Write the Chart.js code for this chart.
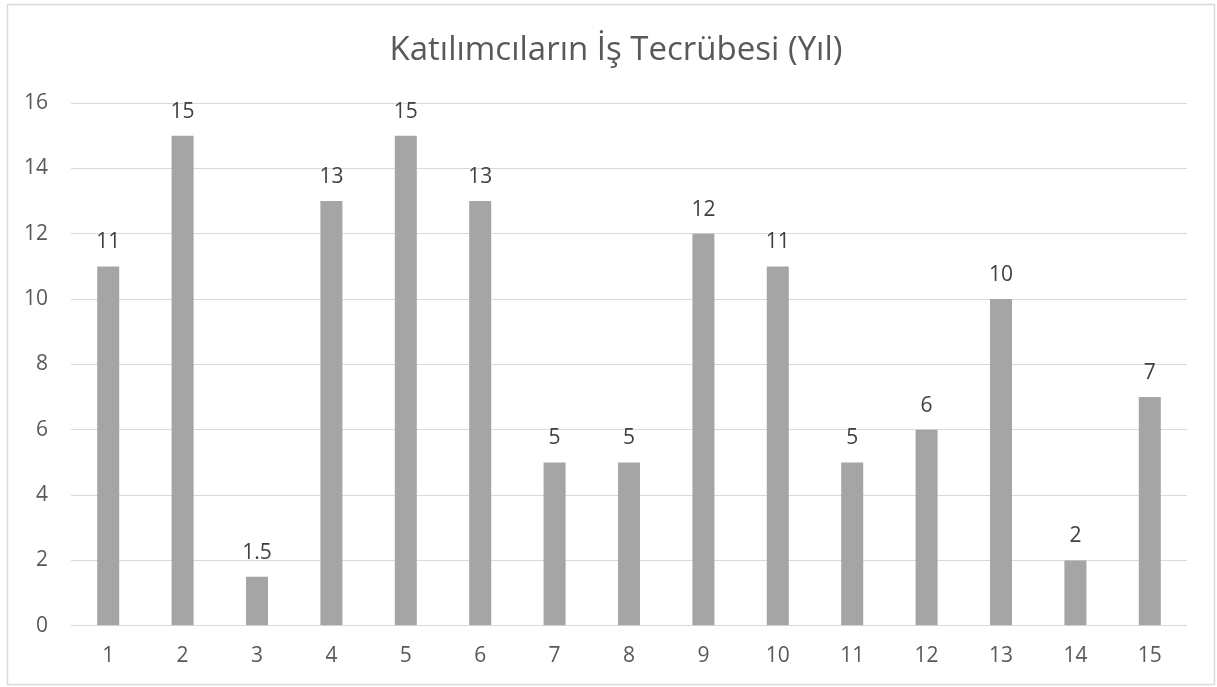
<!DOCTYPE html>
<html>
<head>
<meta charset="utf-8">
<script src="https://cdn.jsdelivr.net/npm/chart.js@4"></script>
<style>
  html, body { margin: 0; padding: 0; background: #ffffff; }
  #wrap { width: 1217px; height: 687px; }
</style>
</head>
<body>
<div id="wrap"><canvas id="c" width="1217" height="687"></canvas></div>
<script>
const titleText = 'Katılımcıların İş Tecrübesi (Yıl)';
const categories = ['1','2','3','4','5','6','7','8','9','10','11','12','13','14','15'];
const values = [11, 15, 1.5, 13, 15, 13, 5, 5, 12, 11, 5, 6, 10, 2, 7];
const yTicks = [0, 2, 4, 6, 8, 10, 12, 14, 16];

const FONT = "'Open Sans', 'DejaVu Sans', sans-serif";

const frame = {
  id: 'frame',
  beforeDraw(chart) {
    const ctx = chart.ctx;
    ctx.save();
    ctx.fillStyle = '#ffffff';
    ctx.fillRect(0, 0, chart.width, chart.height);
    ctx.strokeStyle = '#D9D9D9';
    ctx.lineWidth = 1.5;
    ctx.strokeRect(7.5, 4.5, 1207, 680);
    ctx.restore();
  },
  afterDraw(chart) {
    const ctx = chart.ctx;
    ctx.save();
    ctx.font = '33px ' + FONT;
    ctx.fillStyle = '#595959';
    ctx.textAlign = 'center';
    ctx.textBaseline = 'middle';
    ctx.fillText(titleText, 616, 51);
    ctx.restore();
  }
};

const valueLabels = {
  id: 'valueLabels',
  afterDatasetsDraw(chart) {
    const ctx = chart.ctx;
    const meta = chart.getDatasetMeta(0);
    ctx.save();
    ctx.font = '21px ' + FONT;
    ctx.fillStyle = '#404040';
    ctx.textAlign = 'center';
    ctx.textBaseline = 'alphabetic';
    meta.data.forEach((bar, i) => {
      ctx.fillText(String(values[i]), bar.x, bar.y - 18);
    });
    ctx.restore();
  }
};

new Chart(document.getElementById('c'), {
  type: 'bar',
  data: {
    labels: categories,
    datasets: [{
      data: values,
      backgroundColor: '#A5A5A5',
      borderWidth: 0,
      barPercentage: 0.296,
      categoryPercentage: 1
    }]
  },
  options: {
    responsive: false,
    animation: false,
    layout: { padding: { left: 0, right: 30, top: 103, bottom: 0 } },
    plugins: {
      legend: { display: false },
      tooltip: { enabled: false },
      title: { display: false }
    },
    scales: {
      x: {
        grid: { display: false, drawTicks: false },
        border: { display: false },
        ticks: {
          color: '#595959',
          font: { family: FONT, size: 21 },
          padding: 18
        }
      },
      y: {
        min: 0,
        max: 16,
        afterFit(scale) { scale.width = 71; },
        afterBuildTicks(scale) { scale.ticks = yTicks.map(v => ({ value: v })); },
        grid: { color: '#D9D9D9', lineWidth: 1, drawTicks: false },
        border: { display: false },
        ticks: {
          color: '#595959',
          font: { family: FONT, size: 21 },
          padding: 23
        }
      }
    }
  },
  plugins: [frame, valueLabels]
});
</script>
</body>
</html>
